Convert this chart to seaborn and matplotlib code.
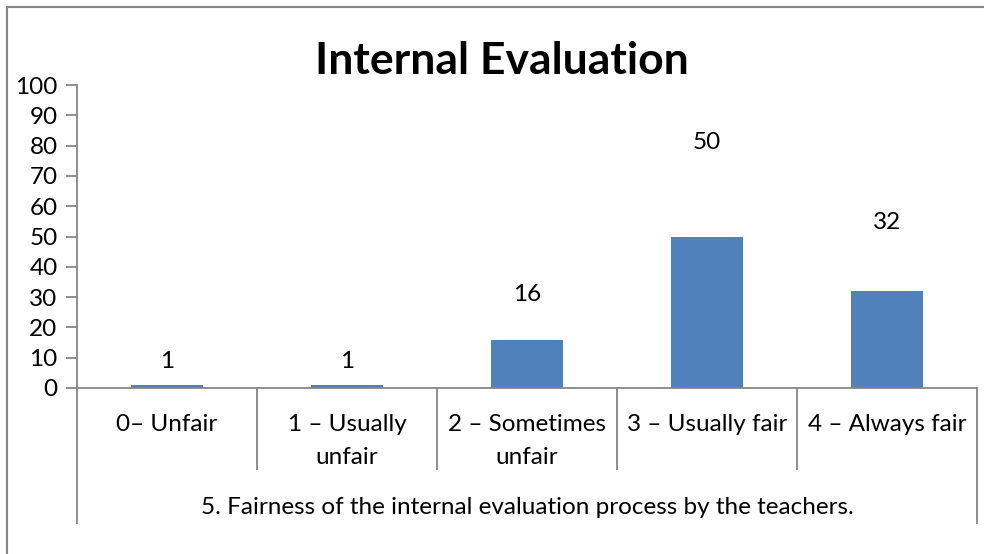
import matplotlib
matplotlib.use("Agg")
import matplotlib.pyplot as plt
import matplotlib.transforms as mtransforms
import seaborn as sns
import pandas as pd

categories = ["0\u2013 Unfair", "1 \u2013 Usually\nunfair", "2 \u2013 Sometimes\nunfair",
              "3 \u2013 Usually fair", "4 \u2013 Always fair"]
values = [1, 1, 16, 50, 32]
yticks = [0, 10, 20, 30, 40, 50, 60, 70, 80, 90, 100]
title = "Internal Evaluation"
group_label = "5. Fairness of the internal evaluation process by the teachers."

sns.set_theme(style="white")
plt.rcParams["font.family"] = ["Lato", "DejaVu Sans"]
plt.rcParams["text.color"] = "black"

GRAY = "#868686"
BLUE = "#4F81BD"
FS = 17.5

fig = plt.figure(figsize=(9.84, 5.54), dpi=100)
W, H = 984, 554
ax = fig.add_axes([77 / W, (H - 388) / H, 900 / W, 303 / H])

df = pd.DataFrame({"cat": categories, "val": values})
sns.barplot(data=df, x="cat", y="val", color=BLUE, width=0.4, saturation=1,
            ax=ax, edgecolor="none")

ax.set_xlim(-0.5, len(categories) - 0.5)
ax.set_ylim(0, 100)
ax.set_yticks(yticks)
ax.set_yticklabels([str(t) for t in yticks], fontsize=FS)
ax.set_xticks([])
ax.set_xlabel("")
ax.set_ylabel("")
for s in ["top", "right"]:
    ax.spines[s].set_visible(False)
ax.spines["left"].set_color(GRAY)
ax.spines["bottom"].set_color(GRAY)
ax.spines["left"].set_linewidth(1.3)
ax.spines["bottom"].set_linewidth(1.3)
ax.tick_params(axis="y", direction="out", length=8, width=1.3, color=GRAY,
               labelcolor="black", pad=6, left=True)

# data labels
for i, v in enumerate(values):
    ax.text(i, v * 1.475 + 7.3, str(v), ha="center", va="center", fontsize=FS,
            color="black")

# category axis table-like lines
trans = mtransforms.blended_transform_factory(ax.transData, ax.transAxes)
n = len(categories)
inner_bottom = -(470 - 388) / 303
outer_bottom = -(524 - 388) / 303
for k in range(n + 1):
    xb = -0.5 + k
    yb = outer_bottom if k in (0, n) else inner_bottom
    ax.plot([xb, xb], [0, yb], color=GRAY, lw=1.3, transform=trans, clip_on=False,
            solid_capstyle="butt")

for i, c in enumerate(categories):
    ax.text(i, -(414 - 388) / 303, c, ha="center", va="top", fontsize=FS,
            transform=trans, linespacing=1.68, color="black")

ax.text((n - 1) / 2, -(508 - 388) / 303, group_label, ha="center", va="center",
        fontsize=FS, transform=trans, color="black")

fig.text(502 / W, 1 - 61 / H, title, ha="center", va="center", fontsize=32,
         fontweight="bold", color="black")

# figure border (top and left visible)
fig.add_artist(plt.Line2D([7 / W, 7 / W], [0, 1 - 7 / H], color=GRAY, lw=1.5,
                          transform=fig.transFigure))
fig.add_artist(plt.Line2D([7 / W, 1], [1 - 7 / H, 1 - 7 / H], color=GRAY, lw=1.5,
                          transform=fig.transFigure))

fig.savefig("out.png", dpi=100)
